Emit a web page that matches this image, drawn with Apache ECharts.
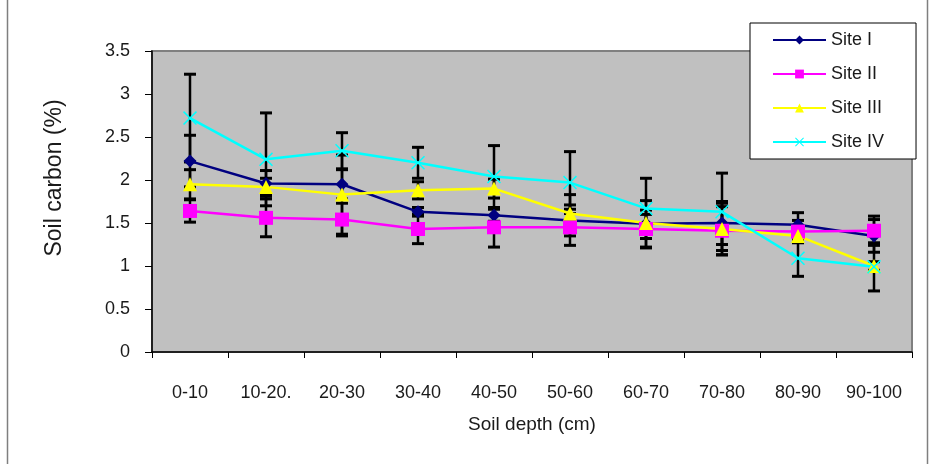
<!DOCTYPE html>
<html>
<head>
<meta charset="utf-8">
<script src="https://cdn.jsdelivr.net/npm/echarts@6/dist/echarts.min.js"></script>
<style>
  html, body { margin: 0; padding: 0; background: #fff; }
  #chart { width: 930px; height: 464px; }
</style>
</head>
<body>
<div id="chart"></div>
<script>
// soil depth classes
var categories = ['0-10', '10-20.', '20-30', '30-40', '40-50', '50-60', '60-70', '70-80', '80-90', '90-100'];
var yTicks = [0, 0.5, 1, 1.5, 2, 2.5, 3, 3.5];

// mean soil carbon (%) per site
var siteI   = [2.22, 1.96, 1.95, 1.63, 1.59, 1.53, 1.49, 1.50, 1.48, 1.35];
var siteII  = [1.64, 1.56, 1.54, 1.43, 1.45, 1.45, 1.43, 1.41, 1.40, 1.41];
var siteIII = [1.95, 1.92, 1.83, 1.88, 1.90, 1.61, 1.50, 1.43, 1.35, 1.00];
var siteIV  = [2.72, 2.24, 2.34, 2.20, 2.04, 1.97, 1.67, 1.63, 1.09, 0.99];

// error bar half lengths
var errI   = [0.30, 0.15, 0.17, 0.05, 0.07, 0.18, 0.27, 0.25, 0.14, 0.19];
var errII  = [0.13, 0.22, 0.19, 0.17, 0.23, 0.21, 0.22, 0.28, 0.13, 0.17];
var errIII = [0.17, 0.10, 0.46, 0.10, 0.11, 0.22, 0.10, 0.30, 0.05, 0.05];
var errIV  = [0.51, 0.54, 0.21, 0.18, 0.36, 0.36, 0.35, 0.45, 0.21, 0.28];

var font = 'Liberation Sans';
var txt = '#1a1a1a';

function errData(vals, errs) {
    return vals.map(function (v, i) { return [i, v, errs[i]]; });
}

function renderErr(params, api) {
    var i = api.value(0), v = api.value(1), e = api.value(2);
    var top = api.coord([i, v + e]);
    var bot = api.coord([i, v - e]);
    var hw = 6;
    var st = {stroke: '#000', lineWidth: 2.5};
    var cap = {stroke: '#000', lineWidth: 3};
    return {
        type: 'group',
        children: [
            {type: 'line', shape: {x1: top[0], y1: top[1], x2: bot[0], y2: bot[1]}, style: st},
            {type: 'line', shape: {x1: top[0] - hw, y1: top[1], x2: top[0] + hw, y2: top[1]}, style: cap},
            {type: 'line', shape: {x1: bot[0] - hw, y1: bot[1], x2: bot[0] + hw, y2: bot[1]}, style: cap}
        ]
    };
}

function errSeries(vals, errs) {
    return {
        type: 'custom',
        z: 1,
        silent: true,
        renderItem: renderErr,
        encode: {x: 0, y: 1},
        data: errData(vals, errs)
    };
}

var xMark = 'path://M0,1.5 L1.5,0 L10,8.5 L18.5,0 L20,1.5 L11.5,10 L20,18.5 L18.5,20 L10,11.5 L1.5,20 L0,18.5 L8.5,10 Z';

function lineSeries(name, data, color, symbol, size) {
    return {
        name: name,
        type: 'line',
        z: 3,
        data: data,
        symbol: symbol,
        symbolSize: size,
        showAllSymbol: true,
        lineStyle: {color: color, width: 2.5},
        itemStyle: {color: color, borderWidth: 0},
        emphasis: {disabled: true}
    };
}

var chart = echarts.init(document.getElementById('chart'));
chart.setOption({
    animation: false,
    textStyle: {fontFamily: font, color: txt},
    graphic: [
        {type: 'line', shape: {x1: 7.5, y1: 0, x2: 7.5, y2: 464}, style: {stroke: '#7f7f7f', lineWidth: 1.5}},
        {type: 'line', shape: {x1: 927.5, y1: 0, x2: 927.5, y2: 464}, style: {stroke: '#7f7f7f', lineWidth: 1.5}},
        {
            type: 'text', x: 55, y: 178, rotation: Math.PI / 2,
            style: {text: 'Soil carbon (%)', font: '23px "Liberation Sans"', fill: txt, align: 'center', verticalAlign: 'middle'}
        }
    ],
    grid: {
        left: 152, right: 18, top: 51, bottom: 112,
        show: true,
        backgroundColor: '#c0c0c0',
        borderColor: '#808080',
        borderWidth: 2
    },
    legend: {
        orient: 'vertical',
        left: 750,
        top: 23,
        padding: [8, 32, 8, 22],
        itemWidth: 53,
        itemHeight: 11,
        itemGap: 16,
        backgroundColor: '#fff',
        borderColor: '#000',
        borderWidth: 1,
        z: 10,
        textStyle: {fontFamily: font, fontSize: 18, color: txt, lineHeight: 18},
        data: ['Site I', 'Site II', 'Site III', 'Site IV']
    },
    xAxis: {
        type: 'category',
        data: categories,
        boundaryGap: true,
        name: 'Soil depth (cm)',
        nameLocation: 'middle',
        nameGap: 63,
        nameTextStyle: {fontFamily: font, fontSize: 19, color: txt},
        axisLine: {lineStyle: {color: '#000', width: 1.5}},
        axisTick: {show: true, length: 6, lineStyle: {color: '#000'}},
        axisLabel: {fontFamily: font, fontSize: 18, color: txt, margin: 32},
        splitLine: {show: false}
    },
    yAxis: {
        type: 'value',
        min: yTicks[0],
        max: yTicks[yTicks.length - 1],
        interval: 0.5,
        axisLine: {show: true, lineStyle: {color: '#000', width: 1.5}},
        axisTick: {show: true, length: 7, lineStyle: {color: '#000'}},
        axisLabel: {fontFamily: font, fontSize: 18, color: txt, margin: 22},
        splitLine: {show: false}
    },
    series: [
        errSeries(siteI, errI),
        errSeries(siteII, errII),
        errSeries(siteIII, errIII),
        errSeries(siteIV, errIV),
        lineSeries('Site I', siteI, '#000080', 'diamond', 13),
        lineSeries('Site II', siteII, '#ff00ff', 'rect', 14),
        lineSeries('Site III', siteIII, '#ffff00', 'triangle', 14),
        lineSeries('Site IV', siteIV, '#00ffff', xMark, 14)
    ]
});
</script>
</body>
</html>
